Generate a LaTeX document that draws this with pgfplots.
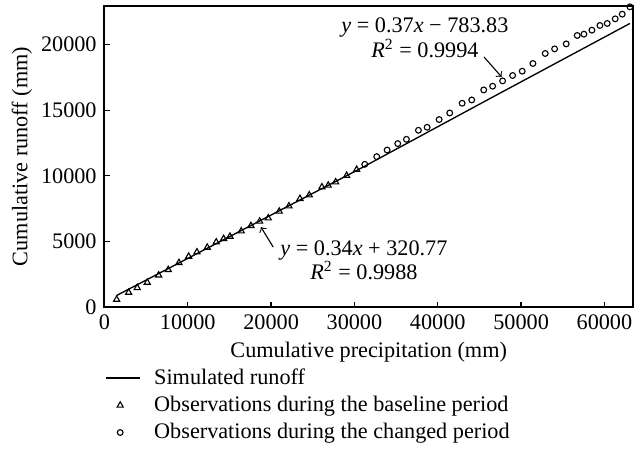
\documentclass[border=0pt]{standalone}
\usepackage{fontspec}
\setmainfont{Liberation Serif}
\usepackage{pgfplots}
\pgfplotsset{compat=1.18}

% observed cumulative runoff, baseline period
\pgfplotstableread{
x y
1464 572
2904 1106
3936 1465
5136 1869
6504 2426
7656 2838
8940 3372
10104 3853
11100 4181
12336 4540
13416 4944
14304 5204
15060 5379
16416 5784
17580 6196
18624 6524
19656 6775
20976 7287
22140 7691
23460 8256
24576 8530
26100 9141
26856 9270
27744 9522
29064 10011
30264 10468
}\baseline

% observed cumulative runoff, changed period
\pgfplotstableread{
x y
31236 10873
32676 11460
33924 11964
35196 12452
36240 12780
37680 13467
38724 13696
40164 14284
41436 14787
42924 15527
44076 15779
45516 16542
46584 16826
47784 17230
48984 17642
50136 17970
51420 18557
52896 19320
54024 19671
55416 20052
56736 20693
57540 20792
58500 21097
59460 21456
60336 21608
61296 21959
62136 22318
63060 22875
}\changed

\pgfplotsset{
  linelegend/.style={legend image code/.code={\draw[##1] (0pt,0pt) -- (15.3pt,0pt); \path (19.3pt,0pt);}},
  marklegend/.style={legend image code/.code={\draw[##1] plot coordinates {(6.3pt,0pt)};}},
}

\begin{document}
\begin{tikzpicture}[x=1pt,y=1pt]
\useasboundingbox (0,0) rectangle (288,212.4);
\begin{axis}[
  at={(47.0pt,74.25pt)}, anchor=south west,
  scale only axis, width=237.8pt, height=135.4pt,
  xmin=0, xmax=63420, ymin=0, ymax=22930,
  axis line style={line width=0.9pt},
  xtick={0,10000,...,60000},
  ytick={0,5000,...,20000},
  xtick pos=left, ytick pos=left,
  tick align=inside,
  major tick length=2.4pt,
  tick style={line width=0.6pt, black},
  scaled ticks=false,
  /pgf/number format/.cd, set thousands separator={}, assume math mode=true, /pgfplots/.cd,
  xlabel={Cumulative precipitation (mm)},
  ylabel={Cumulative runoff (mm)},
  x label style={at={(axis description cs:0.5,-0.150)}, anchor=center},
  y label style={at={(axis description cs:-0.156,0.5)}, anchor=center},
  legend style={draw=none, fill=none, at={(axis description cs:-0.0114,-0.1734)},
    anchor=north west, cells={anchor=west}, row sep=-0.2pt},
]
\addplot[black, line width=0.6pt, linelegend]
  coordinates {(1464,880) (15060,5380) (30264,10400) (46260,15886) (63060,21608)};
\addlegendentry{Simulated runoff}
\addplot[only marks, mark=triangle, mark size=1.6pt, mark options={line width=0.5pt, black}, marklegend]
  table {\baseline};
\addlegendentry{Observations during the baseline period}
\addplot[only marks, mark=o, mark size=1.3pt, mark options={line width=0.5pt, black}, marklegend]
  table {\changed};
\addlegendentry{Observations during the changed period}

\node[align=center, inner sep=0pt] at (axis cs:38460,20525)
  {\textit{y} = 0.37\textit{x} − 783.83\\[-1pt] \textit{R}\textsuperscript{2} = 0.9994};
\draw[->, >=to, line width=0.5pt] (axis cs:45540,19060) -- (axis cs:47664,17534);
\node[align=center, inner sep=0pt] at (axis cs:31140,3548)
  {\textit{y} = 0.34\textit{x} + 320.77\\[-1pt] \textit{R}\textsuperscript{2} = 0.9988};
\draw[->, >=to, line width=0.5pt] (axis cs:20256,4563) -- (axis cs:18780,6089);
\end{axis}
\end{tikzpicture}
\end{document}
